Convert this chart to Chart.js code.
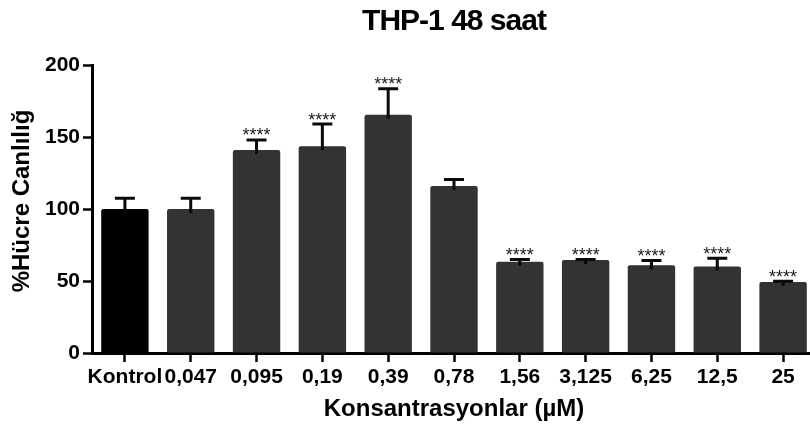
<!DOCTYPE html>
<html>
<head>
<meta charset="utf-8">
<script src="https://cdn.jsdelivr.net/npm/chart.js@4.4.0/dist/chart.umd.min.js"></script>
<style>
  html, body { margin: 0; padding: 0; background: #fff; overflow: hidden; }
  #wrap { width: 810px; height: 430px; overflow: hidden; position: relative; }
  canvas { display: block; }
</style>
</head>
<body>
<div id="wrap"><canvas id="c" width="816" height="430"></canvas></div>
<script>
// Chart text
const chartTitle = 'THP-1 48 saat';
const xTitle = 'Konsantrasyonlar (µM)';
const yTitle = '%Hücre Canlılığ';

// Concentrations (µM) and mean viability (%) with SEM
const categories = ['Kontrol', '0,047', '0,095', '0,19', '0,39', '0,78', '1,56', '3,125', '6,25', '12,5', '25'];
const viability = [100, 100, 141, 143.5, 165.5, 116, 63.4, 64.5, 61, 60, 49.3];
const sem = [7.5, 7.5, 7, 15.5, 18, 4.5, 1.6, 0.4, 3.2, 5.8, 0.6];
const significance = ['', '', '****', '****', '****', '', '****', '****', '****', '****', '****'];

// Y axis tick values
const yTicks = [0, 50, 100, 150, 200];

const FONT = '"Liberation Sans", Arial, Helvetica, sans-serif';

// Error bars (upper whisker only), significance stars and the titles
const annotate = {
  id: 'annotate',
  afterDatasetsDraw(chart) {
    const { ctx, scales: { y } } = chart;
    const meta = chart.getDatasetMeta(0);
    ctx.save();
    ctx.strokeStyle = '#0a0a0a';
    ctx.fillStyle = '#1a1a1a';
    ctx.lineWidth = 3;
    ctx.lineCap = 'butt';
    meta.data.forEach((bar, i) => {
      const cx = bar.x;
      const top = y.getPixelForValue(viability[i] + sem[i]);
      ctx.beginPath();
      ctx.moveTo(cx, bar.y + 4);
      ctx.lineTo(cx, top);
      ctx.moveTo(cx - 10, top);
      ctx.lineTo(cx + 10, top);
      ctx.stroke();
      if (significance[i]) {
        ctx.font = '18px ' + FONT;
        ctx.textAlign = 'center';
        ctx.textBaseline = 'alphabetic';
        ctx.fillText(significance[i], cx, top + 1.5);
      }
    });
    ctx.restore();
  },
  afterDraw(chart) {
    const { ctx, chartArea } = chart;
    ctx.save();
    ctx.fillStyle = '#000';
    ctx.textAlign = 'center';
    ctx.textBaseline = 'middle';
    ctx.letterSpacing = '-1px';
    ctx.font = 'bold 30px ' + FONT;
    ctx.fillText(chartTitle, (chartArea.left + chartArea.right) / 2, 22);
    ctx.letterSpacing = '0px';
    ctx.translate(22, 201);
    ctx.rotate(-Math.PI / 2);
    ctx.font = 'bold 24px ' + FONT;
    ctx.fillText(yTitle, 0, 0);
    ctx.restore();
  }
};

new Chart(document.getElementById('c'), {
  type: 'bar',
  data: {
    labels: categories,
    datasets: [{
      data: viability,
      backgroundColor: categories.map((_, i) => i === 0 ? '#000000' : '#333333'),
      borderWidth: 0,
      borderRadius: 2,
      borderSkipped: 'bottom',
      categoryPercentage: 1,
      barPercentage: 0.72
    }]
  },
  options: {
    responsive: false,
    animation: false,
    devicePixelRatio: 1,
    layout: { padding: { top: 65, left: 0, right: 0, bottom: 0 } },
    plugins: { legend: { display: false }, tooltip: { enabled: false }, title: { display: false } },
    scales: {
      x: {
        z: 1,
        offset: true,
        grid: { display: true, drawOnChartArea: false, drawTicks: true, tickLength: 9, tickWidth: 2.5, tickColor: '#000', offset: false },
        border: { display: true, color: '#000', width: 3 },
        ticks: { color: '#000', padding: 3, maxRotation: 0, autoSkip: false, font: { family: FONT, size: 21, weight: 'bold' } },
        title: { display: true, text: xTitle, color: '#000', padding: { top: 0, bottom: 6 }, font: { family: FONT, size: 24, weight: 'bold' } },
        afterFit(scale) { scale.height = 77; }
      },
      y: {
        z: 1,
        min: 0,
        max: 200,
        afterBuildTicks(scale) { scale.ticks = yTicks.map(v => ({ value: v })); },
        grid: { display: true, drawOnChartArea: false, drawTicks: true, tickLength: 9, tickWidth: 2.5, tickColor: '#000' },
        border: { display: true, color: '#000', width: 3 },
        ticks: { color: '#000', padding: 3, font: { family: FONT, size: 21, weight: 'bold' } },
        afterFit(scale) { scale.width = 92; }
      }
    }
  },
  plugins: [annotate]
});
</script>
</body>
</html>
